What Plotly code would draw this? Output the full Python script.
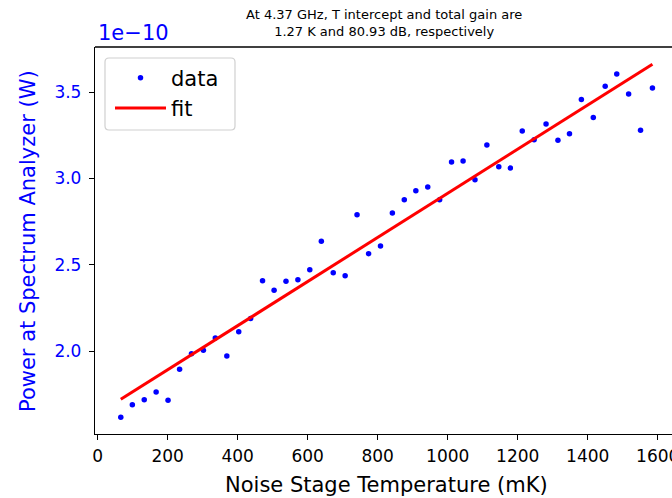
import plotly.graph_objects as go

# Noise stage temperature (mK)
temperature_mk = [66, 99, 133, 167, 201, 234, 268, 302, 336, 369, 403, 437, 471, 504,
                  538, 572, 606, 639, 673, 707, 741, 774, 808, 842, 876, 909, 943, 977,
                  1011, 1044, 1078, 1112, 1146, 1179, 1213, 1247, 1281, 1315, 1348, 1382,
                  1416, 1450, 1483, 1517, 1551, 1585]
# Power at spectrum analyzer (units of 1e-10 W)
power_e10 = [1.616, 1.689, 1.718, 1.762, 1.714, 1.894, 1.984, 2.004, 2.075, 1.971,
             2.112, 2.189, 2.407, 2.352, 2.404, 2.413, 2.471, 2.636, 2.454, 2.436,
             2.790, 2.564, 2.608, 2.800, 2.877, 2.929, 2.950, 2.877, 3.095, 3.101,
             2.993, 3.194, 3.068, 3.060, 3.275, 3.224, 3.315, 3.221, 3.259, 3.458,
             3.354, 3.534, 3.605, 3.489, 3.280, 3.525]
# Linear fit endpoints
fit_x = [66, 1585]
fit_y = [1.720, 3.662]

x_ticks = [0, 200, 400, 600, 800, 1000, 1200, 1400, 1600]
y_ticks = [2.0, 2.5, 3.0, 3.5]

title_text = "At 4.37 GHz, T intercept and total gain are<br>1.27 K and 80.93 dB, respectively"
font_family = "DejaVu Sans"

W, H = 672, 498
L, R, T, B = 95, 0, 47, 64
pw, ph = W - L - R, H - T - B

def px_x(p):
    return (p - L) / pw

def px_y(p):
    return 1 - (p - T) / ph

def rounded_rect(x0, y0, x1, y1, r):
    # pixel box -> paper path with rounded corners
    X0, X1 = px_x(x0), px_x(x1)
    Y0, Y1 = px_y(y0), px_y(y1)  # Y0 top, Y1 bottom
    rx, ry = r / pw, r / ph
    return (f"M {X0+rx},{Y0} L {X1-rx},{Y0} Q {X1},{Y0} {X1},{Y0-ry} "
            f"L {X1},{Y1+ry} Q {X1},{Y1} {X1-rx},{Y1} "
            f"L {X0+rx},{Y1} Q {X0},{Y1} {X0},{Y1+ry} "
            f"L {X0},{Y0-ry} Q {X0},{Y0} {X0+rx},{Y0} Z")

fig = go.Figure()
fig.add_trace(go.Scatter(x=temperature_mk, y=power_e10, mode="markers", name="data",
                         marker=dict(color="blue", size=5.5, line=dict(width=0))))
fig.add_trace(go.Scatter(x=fit_x, y=fit_y, mode="lines", name="fit",
                         line=dict(color="red", width=3)))

fig.update_layout(
    width=W, height=H,
    margin=dict(l=L, r=R, t=T, b=B, pad=0),
    paper_bgcolor="white", plot_bgcolor="white",
    font=dict(family=font_family, color="black"),
    showlegend=True,
    legend=dict(x=px_x(110), y=px_y(57.5), xanchor="left", yanchor="top",
                bgcolor="rgba(0,0,0,0)", borderwidth=0,
                font=dict(size=21, family=font_family, color="black"),
                tracegroupgap=0, itemwidth=51),
    xaxis=dict(range=[-7.7, 1640.9], tickvals=x_ticks, showgrid=False, zeroline=False,
               showline=True, linecolor="black", linewidth=1.3, mirror=False,
               ticks="outside", ticklen=5, tickwidth=1.3, tickcolor="black",
               tickfont=dict(size=17, color="black", family=font_family),
               ticklabeloverflow="allow", ticklabelstandoff=1,
               automargin=False),
    yaxis=dict(range=[1.519, 3.762], tickvals=y_ticks, tickformat=".1f", showgrid=False,
               zeroline=False, showline=True, linecolor="black", linewidth=1.3, mirror=False,
               ticks="outside", ticklen=5, tickwidth=1.3, tickcolor="black",
               tickfont=dict(size=17, color="blue", family=font_family),
               ticklabelstandoff=4, automargin=False),
    shapes=[
        dict(type="line", xref="paper", yref="paper", x0=0, x1=1, y0=1, y1=1,
             line=dict(color="black", width=1.3)),
        dict(type="path", xref="paper", yref="paper", layer="above",
             path=rounded_rect(105, 58, 235, 130, 4),
             fillcolor="rgba(255,255,255,0.8)", line=dict(color="#d0d0d0", width=1.2)),
    ],
    annotations=[
        dict(text=title_text, xref="paper", yref="paper", x=px_x(384), y=px_y(23.3),
             xanchor="center", yanchor="middle", showarrow=False,
             font=dict(size=13, color="black", family=font_family)),
        dict(text="1e\u221210", xref="paper", yref="paper", x=px_x(95.5), y=px_y(33.3),
             xanchor="left", yanchor="middle", showarrow=False,
             font=dict(size=21, color="blue", family=font_family)),
        dict(text="Power at Spectrum Analyzer (W)", xref="paper", yref="paper",
             x=px_x(28), y=px_y(241), xanchor="center", yanchor="middle",
             textangle=-90, showarrow=False,
             font=dict(size=21, color="blue", family=font_family)),
        dict(text="Noise Stage Temperature (mK)", xref="paper", yref="paper",
             x=px_x(386), y=px_y(485), xanchor="center", yanchor="middle",
             showarrow=False, font=dict(size=21, color="black", family=font_family)),
    ],
)

fig.write_html("out.html", config={"displayModeBar": False},
               post_script="document.body.style.margin='0';document.body.style.overflow='hidden';")
